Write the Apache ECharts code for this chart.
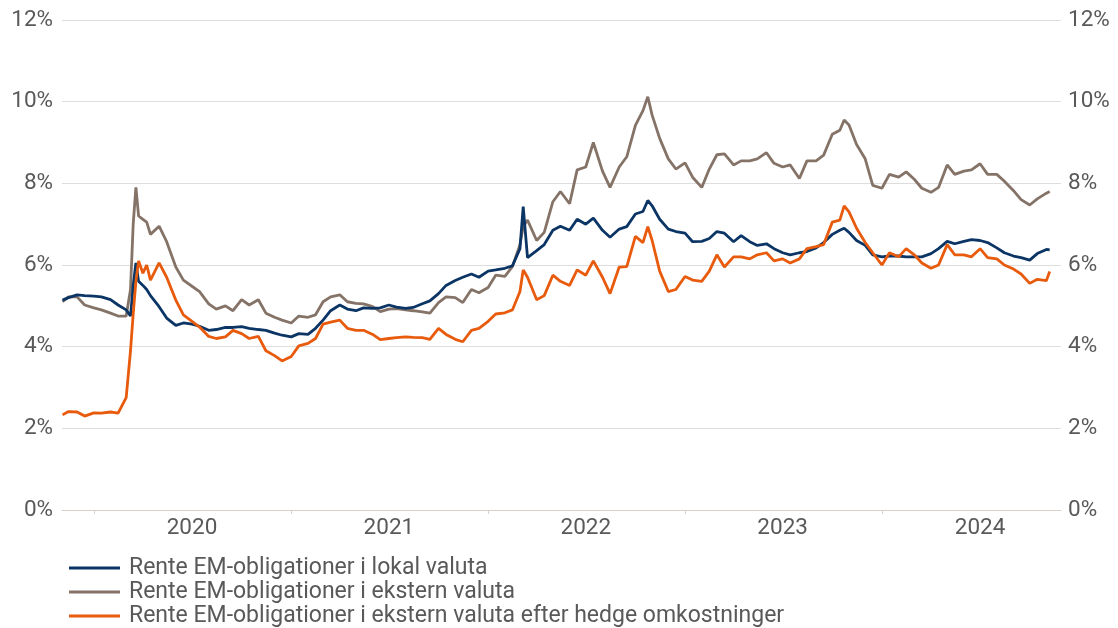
<!DOCTYPE html>
<html>
<head>
<meta charset="utf-8">
<script src="https://cdn.jsdelivr.net/npm/echarts@6/dist/echarts.min.js"></script>
<style>
html,body{margin:0;padding:0;background:#fff;}
#chart{width:1118px;height:628px;}
</style>
</head>
<body>
<div id="chart"></div>
<script>
// Dates (semi-monthly samples plus a few extra around spikes)
const dates = [
 '2019-11-04','2019-11-15','2019-12-01','2019-12-15',
 '2020-01-01','2020-01-15','2020-02-01','2020-02-15','2020-03-01','2020-03-09','2020-03-14','2020-03-19','2020-03-24','2020-04-01','2020-04-08','2020-04-15',
 '2020-05-01','2020-05-15','2020-06-01','2020-06-15','2020-07-01','2020-07-15','2020-08-01','2020-08-15','2020-09-01','2020-09-15','2020-10-01','2020-10-15','2020-11-01','2020-11-15','2020-12-01','2020-12-15',
 '2021-01-01','2021-01-15','2021-02-01','2021-02-15','2021-03-01','2021-03-15','2021-04-01','2021-04-15','2021-05-01','2021-05-15','2021-06-01','2021-06-15',
 '2021-07-01','2021-07-15','2021-08-01','2021-08-15','2021-09-01','2021-09-15','2021-10-01','2021-10-15','2021-11-01','2021-11-15','2021-12-01','2021-12-15',
 '2022-01-01','2022-01-15','2022-02-01','2022-02-15','2022-03-01','2022-03-07','2022-03-15','2022-04-01','2022-04-15','2022-05-01','2022-05-15','2022-06-01','2022-06-15',
 '2022-07-01','2022-07-15','2022-08-01','2022-08-15','2022-09-01','2022-09-15','2022-10-01','2022-10-15','2022-10-24','2022-11-01','2022-11-15','2022-12-01','2022-12-15',
 '2023-01-01','2023-01-15','2023-02-01','2023-02-15','2023-03-01','2023-03-15','2023-04-01','2023-04-15','2023-05-01','2023-05-15','2023-06-01','2023-06-15',
 '2023-07-01','2023-07-15','2023-08-01','2023-08-15','2023-09-01','2023-09-15','2023-10-01','2023-10-15','2023-10-23','2023-11-01','2023-11-15','2023-12-01','2023-12-15',
 '2024-01-01','2024-01-15','2024-02-01','2024-02-15','2024-03-01','2024-03-15','2024-04-01','2024-04-15','2024-05-01','2024-05-15','2024-06-01','2024-06-15',
 '2024-07-01','2024-07-15','2024-08-01','2024-08-15','2024-09-01','2024-09-15','2024-10-01','2024-10-15','2024-11-01','2024-11-07'
];

const lokalValuta = [
 5.14,5.20,5.27,5.25,
 5.24,5.22,5.15,5.02,4.90,4.75,5.50,6.05,5.60,5.50,5.40,5.25,
 4.98,4.70,4.52,4.58,4.55,4.50,4.40,4.42,4.47,4.47,4.49,4.45,4.42,4.40,4.33,4.28,
 4.24,4.32,4.30,4.45,4.65,4.88,5.02,4.92,4.88,4.95,4.94,4.95,
 5.02,4.97,4.94,4.96,5.05,5.12,5.30,5.50,5.62,5.70,5.78,5.70,
 5.85,5.88,5.92,5.98,6.40,7.43,6.18,6.35,6.50,6.85,6.95,6.85,7.12,
 7.00,7.15,6.85,6.68,6.88,6.94,7.25,7.31,7.58,7.45,7.12,6.88,6.82,
 6.78,6.57,6.58,6.65,6.82,6.78,6.57,6.72,6.57,6.48,6.52,6.40,
 6.30,6.25,6.30,6.33,6.42,6.55,6.75,6.85,6.90,6.80,6.60,6.48,6.25,
 6.20,6.22,6.22,6.20,6.20,6.20,6.28,6.40,6.58,6.52,6.58,6.62,
 6.60,6.55,6.42,6.30,6.22,6.18,6.12,6.28,6.38,6.37
];

const eksternValuta = [
 5.10,5.22,5.22,5.02,
 4.95,4.90,4.82,4.75,4.75,5.40,7.00,7.90,7.20,7.12,7.05,6.75,
 6.95,6.57,5.95,5.63,5.48,5.35,5.05,4.92,5.00,4.88,5.15,5.02,5.15,4.82,4.72,4.65,
 4.58,4.75,4.72,4.78,5.10,5.22,5.27,5.10,5.06,5.05,4.98,4.86,
 4.92,4.93,4.90,4.88,4.85,4.82,5.08,5.22,5.20,5.08,5.40,5.32,
 5.45,5.75,5.72,5.96,6.50,6.94,7.10,6.60,6.80,7.55,7.80,7.50,8.33,
 8.40,9.00,8.30,7.90,8.40,8.65,9.42,9.78,10.12,9.67,9.10,8.60,8.35,
 8.50,8.15,7.90,8.35,8.70,8.72,8.45,8.55,8.55,8.60,8.75,8.49,
 8.40,8.45,8.12,8.55,8.55,8.69,9.20,9.30,9.55,9.43,8.95,8.60,7.95,
 7.88,8.22,8.15,8.28,8.10,7.88,7.78,7.90,8.45,8.22,8.30,8.33,
 8.48,8.22,8.22,8.05,7.82,7.60,7.47,7.62,7.76,7.80
];

const eksternHedged = [
 2.33,2.41,2.40,2.30,
 2.38,2.37,2.40,2.37,2.75,3.90,4.80,5.60,6.10,5.80,6.00,5.63,
 6.05,5.70,5.14,4.78,4.62,4.48,4.25,4.20,4.24,4.40,4.32,4.20,4.25,3.90,3.78,3.65,
 3.76,4.02,4.08,4.20,4.55,4.60,4.65,4.45,4.40,4.40,4.30,4.17,
 4.20,4.22,4.24,4.23,4.22,4.18,4.45,4.30,4.18,4.12,4.40,4.45,
 4.62,4.80,4.83,4.90,5.35,5.88,5.70,5.15,5.25,5.75,5.60,5.50,5.88,
 5.75,6.10,5.70,5.30,5.95,5.96,6.70,6.55,6.94,6.60,5.85,5.35,5.40,
 5.72,5.63,5.60,5.85,6.25,5.95,6.20,6.20,6.15,6.25,6.30,6.10,
 6.15,6.05,6.15,6.40,6.45,6.50,7.05,7.10,7.45,7.30,6.90,6.55,6.30,
 6.00,6.30,6.20,6.40,6.25,6.05,5.92,6.00,6.50,6.25,6.25,6.20,
 6.40,6.18,6.15,6.00,5.90,5.78,5.55,5.65,5.62,5.84
];

const seriesNames = [
 'Rente EM-obligationer i lokal valuta',
 'Rente EM-obligationer i ekstern valuta',
 'Rente EM-obligationer i ekstern valuta efter hedge omkostninger'
];
const yearTicks = ['2020-01-01','2021-01-01','2022-01-01','2023-01-01','2024-01-01'];
const yearLabels = ['2020-07-01','2021-07-01','2022-07-01','2023-07-01','2024-07-01'];
const xMin = '2019-11-03';
const xMax = '2024-11-28';

const ts = s => new Date(s + 'T00:00:00Z').getTime();
const pairs = arr => dates.map((d, i) => [ts(d), arr[i]]);

const font = 'Roboto, "Liberation Sans", Arial, sans-serif';
const textColor = '#595959';

const chart = echarts.init(document.getElementById('chart'), null, {renderer: 'canvas'});
const yAxisBase = {
  type: 'value', min: 0, max: 12, interval: 2,
  axisLine: {show: false}, axisTick: {show: false},
  axisLabel: {formatter: '{value}%', color: textColor, fontSize: 22.5, fontFamily: font}
};
chart.setOption({
  animation: false,
  backgroundColor: '#ffffff',
  grid: {left: 62, right: 57, top: 20, bottom: 118, containLabel: false},
  legend: {
    orient: 'vertical', left: 69, top: 556, padding: 0, height: 72,
    icon: 'rect', itemWidth: 51, itemHeight: 3, itemGap: 0,
    textStyle: {color: textColor, fontSize: 23, fontFamily: font, lineHeight: 24, padding: [0, 0, 0, 4]},
    data: seriesNames
  },
  xAxis: {
    type: 'value', min: ts(xMin), max: ts(xMax),
    splitLine: {show: false},
    axisLine: {show: true, onZero: false, lineStyle: {color: '#d9d0c9', width: 1}},
    axisTick: {show: true, length: 4, lineStyle: {color: '#d9d0c9'}, customValues: yearTicks.map(ts)},
    axisLabel: {
      color: textColor, fontSize: 22.5, fontFamily: font, margin: 7,
      customValues: yearLabels.map(ts),
      formatter: v => String(new Date(v).getUTCFullYear())
    }
  },
  yAxis: [
    Object.assign({}, yAxisBase, {position: 'left', splitLine: {show: true, lineStyle: {color: '#dedede', width: 1}}, axisLabel: Object.assign({}, yAxisBase.axisLabel, {margin: 9})}),
    Object.assign({}, yAxisBase, {position: 'right', splitLine: {show: false}, axisLabel: Object.assign({}, yAxisBase.axisLabel, {margin: 7})})
  ],
  series: [
    {name: seriesNames[0], type: 'line', data: pairs(lokalValuta), showSymbol: false, symbol: 'none', lineStyle: {color: '#0b3565', width: 2.8}, itemStyle: {color: '#0b3565'}, z: 3},
    {name: seriesNames[1], type: 'line', data: pairs(eksternValuta), showSymbol: false, symbol: 'none', lineStyle: {color: '#857368', width: 2.8}, itemStyle: {color: '#857368'}, z: 2},
    {name: seriesNames[2], type: 'line', data: pairs(eksternHedged), showSymbol: false, symbol: 'none', lineStyle: {color: '#e85a0c', width: 2.8}, itemStyle: {color: '#e85a0c'}, z: 4}
  ]
});
</script>
</body>
</html>
